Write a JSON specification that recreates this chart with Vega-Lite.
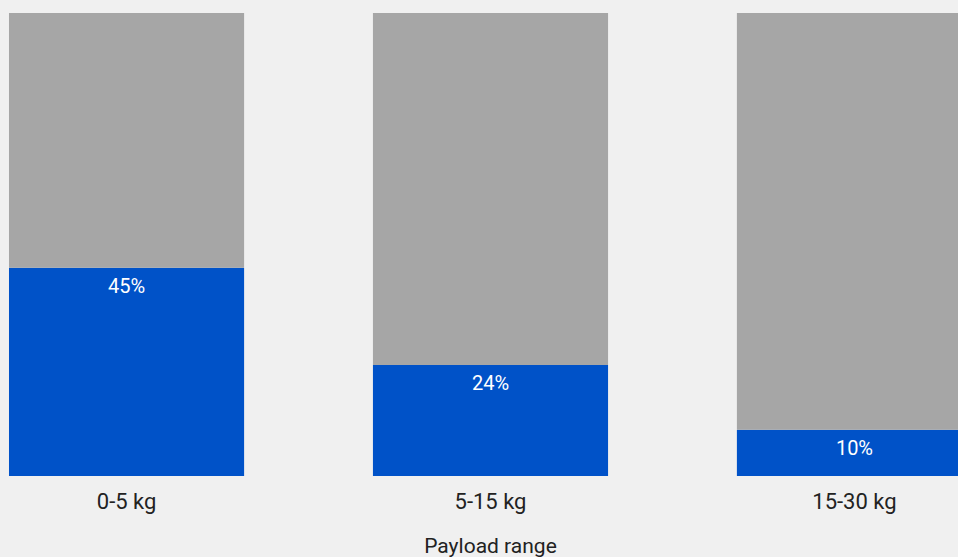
{
  "$schema": "https://vega.github.io/schema/vega-lite/v6.json",
  "width": 958,
  "height": 463,
  "autosize": {"type": "none"},
  "padding": {"top": 13, "left": 0, "right": 0, "bottom": 81},
  "background": "#f0f0f0",
  "config": {"view": {"stroke": null}, "font": "Roboto"},
  "data": {
    "values": [
      {"range": "0-5 kg", "segment": "share", "value": 45, "label": "45%"},
      {"range": "0-5 kg", "segment": "rest", "value": 55, "label": ""},
      {"range": "5-15 kg", "segment": "share", "value": 24, "label": "24%"},
      {"range": "5-15 kg", "segment": "rest", "value": 76, "label": ""},
      {"range": "15-30 kg", "segment": "share", "value": 10, "label": "10%"},
      {"range": "15-30 kg", "segment": "rest", "value": 90, "label": ""}
    ]
  },
  "encoding": {
    "x": {
      "field": "range",
      "type": "nominal",
      "sort": ["0-5 kg", "5-15 kg", "15-30 kg"],
      "scale": {"range": [0, 981], "paddingInner": 0.354, "paddingOuter": 0.0247},
      "axis": {
        "title": "Payload range",
        "titleX": 490,
        "titleY": 76,
        "titleBaseline": "alphabetic",
        "titleFontSize": 21,
        "titleFontWeight": "normal",
        "titleColor": "#222222",
        "labelAngle": 0,
        "labelFontSize": 22,
        "labelColor": "#222222",
        "labelPadding": 15,
        "ticks": false,
        "domain": false,
        "grid": false
      }
    }
  },
  "layer": [
    {
      "mark": {"type": "bar", "clip": true},
      "encoding": {
        "y": {
          "field": "value",
          "type": "quantitative",
          "stack": "zero",
          "scale": {"domain": [0, 100], "nice": false},
          "axis": null
        },
        "color": {
          "field": "segment",
          "type": "nominal",
          "scale": {"domain": ["share", "rest"], "range": ["#0052c8", "#a6a6a6"]},
          "legend": null
        },
        "order": {"field": "segment", "sort": "descending"}
      }
    },
    {
      "transform": [{"filter": "datum.segment === 'share'"}],
      "mark": {"type": "text", "color": "white", "fontSize": 20, "baseline": "middle", "dy": 19, "clip": true},
      "encoding": {
        "y": {"field": "value", "type": "quantitative", "scale": {"domain": [0, 100], "nice": false}, "axis": null},
        "text": {"field": "label"}
      }
    }
  ]
}
